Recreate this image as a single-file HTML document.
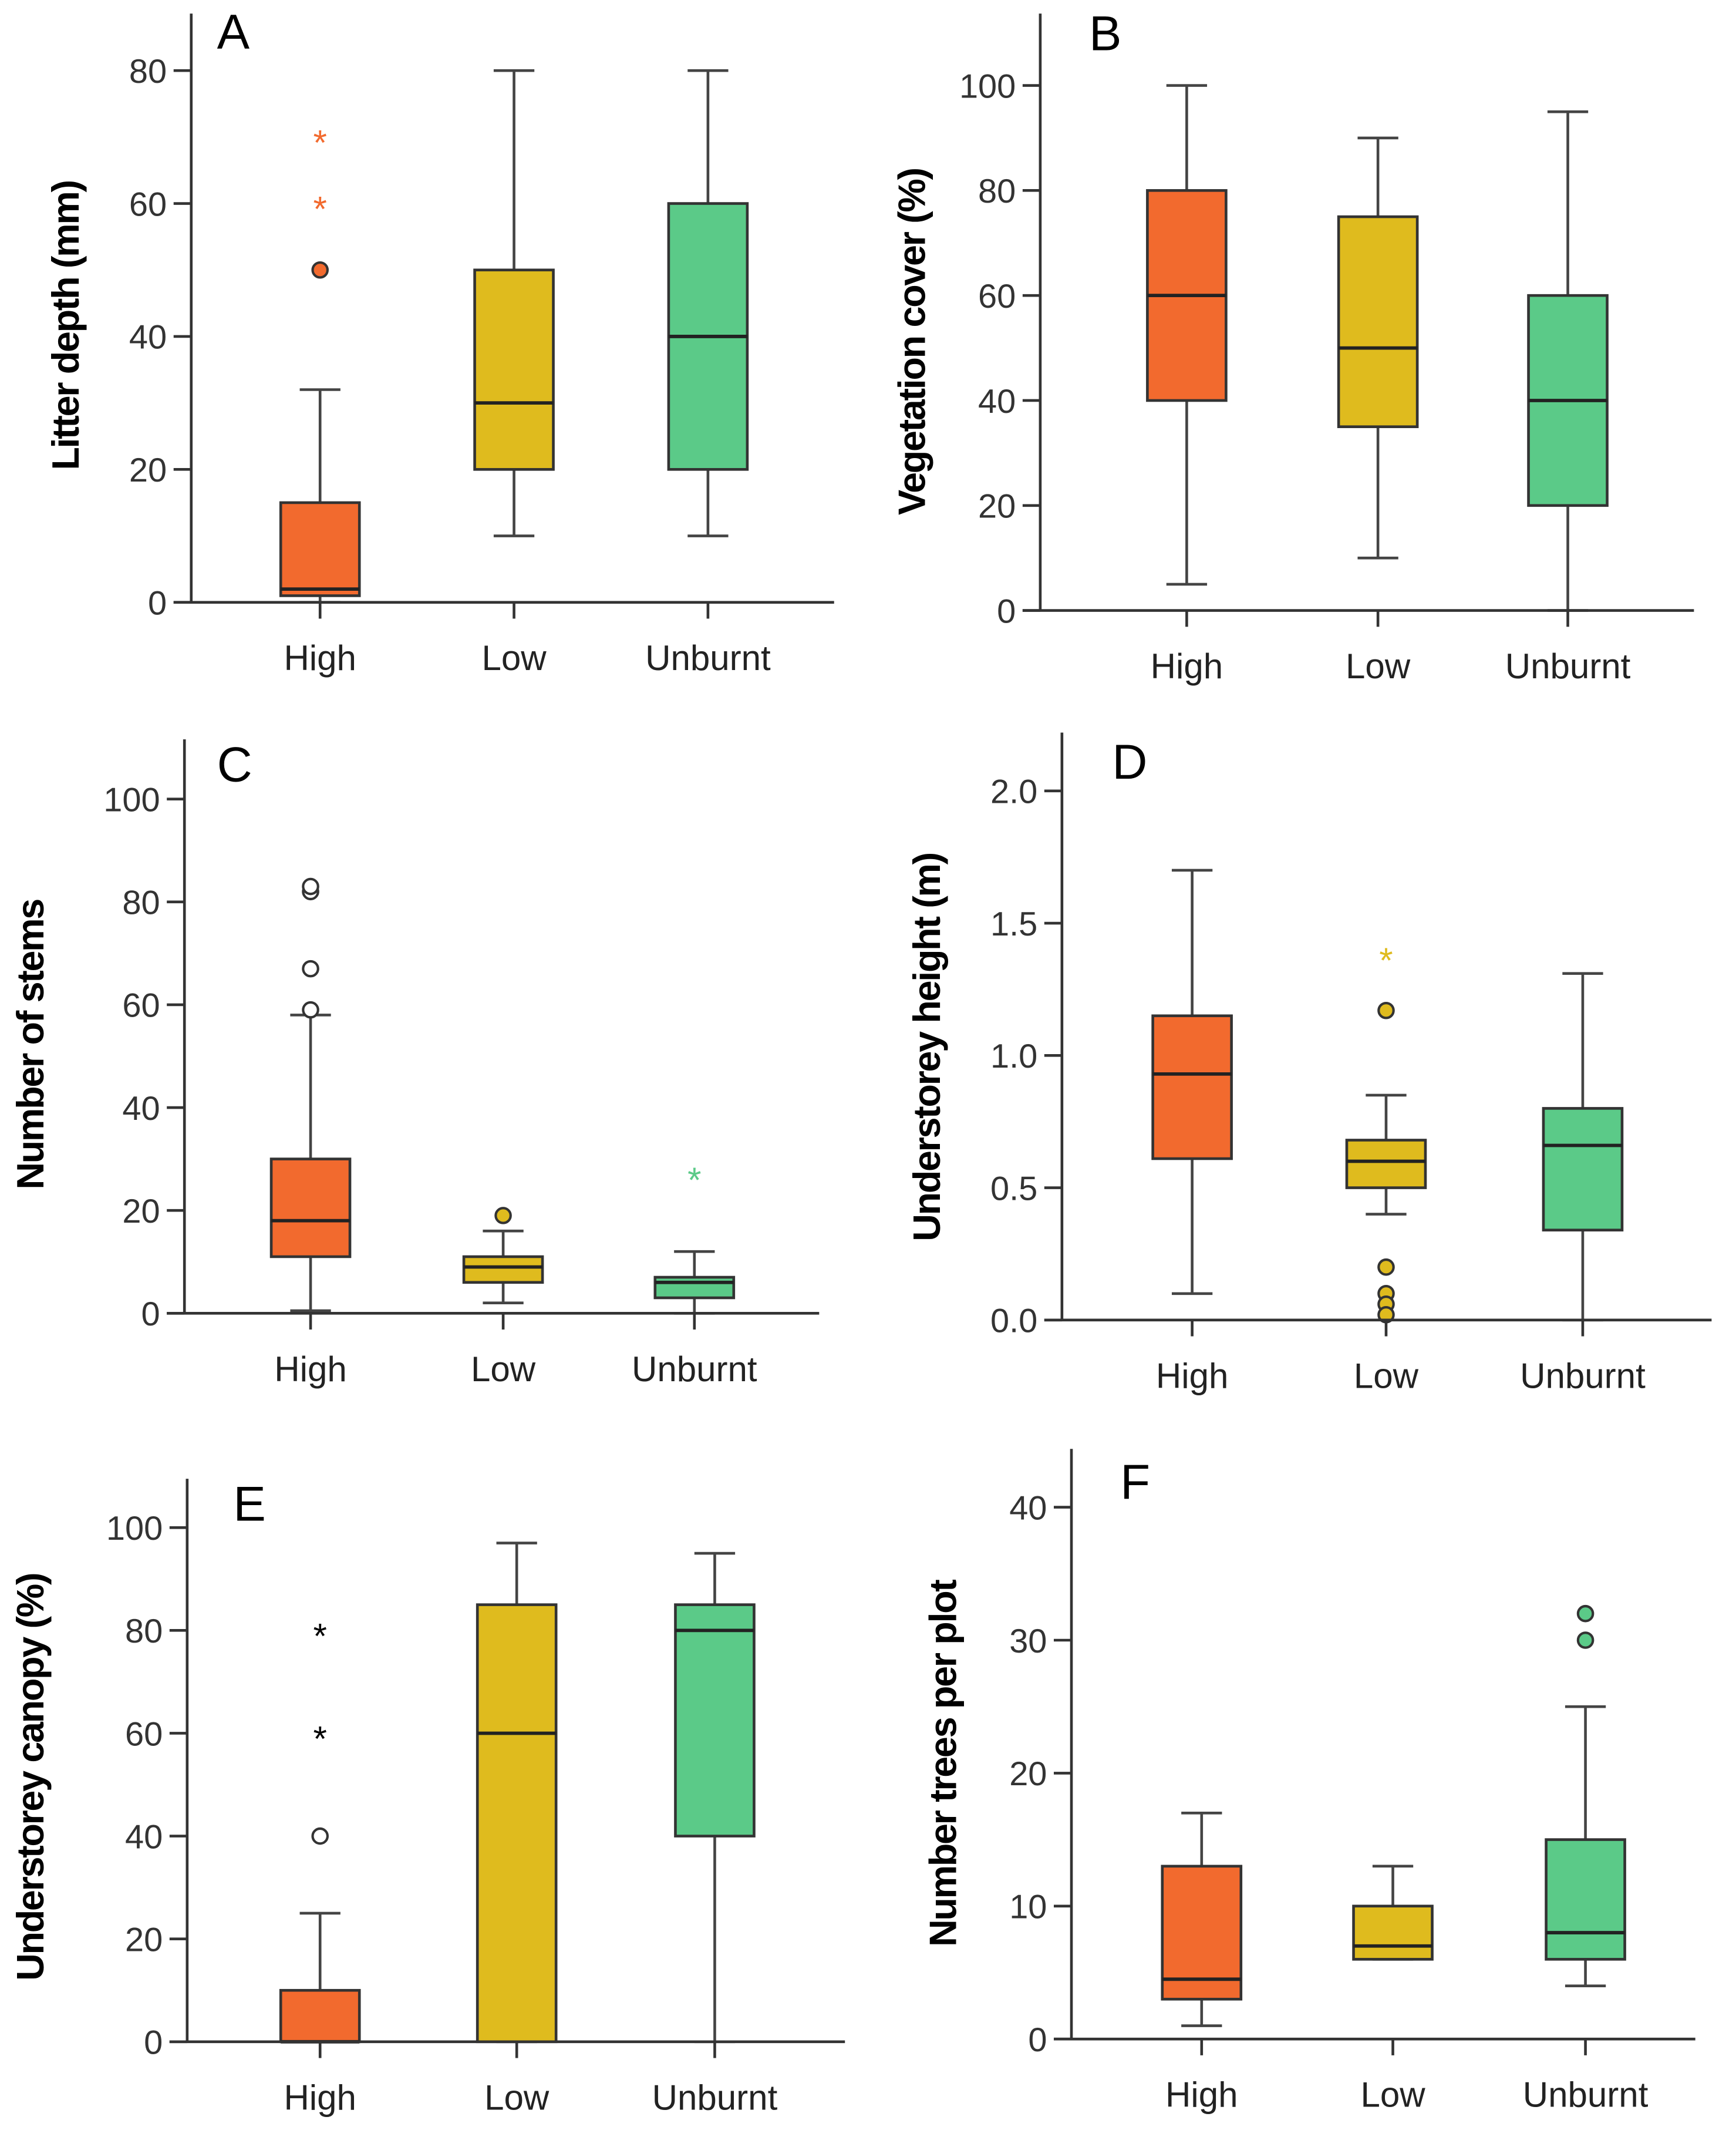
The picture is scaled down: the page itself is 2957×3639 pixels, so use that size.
<!DOCTYPE html>
<html><head><meta charset="utf-8"><style>
html,body{margin:0;padding:0;background:#fff;}
svg{display:block;}
text{font-family:"Liberation Sans",sans-serif;}
</style></head><body>
<svg id="fig" width="2957" height="3639" viewBox="0 0 1280 1575.2" xmlns="http://www.w3.org/2000/svg"></svg>
<script>
const categories = ["High","Low","Unburnt"];
const colors = ["#f26a2e","#dfbb1e","#5bca88"];
// [min, q1, median, q3, max] per category
const litterBoxes = [[0,1,2,15,32],[10,20,30,50,80],[10,20,40,60,80]];
const litterCircles = [[50],[],[]];
const litterStars = [[60,70],[],[]];
const litterTicks = [0,20,40,60,80];
const vegBoxes = [[5,40,60,80,100],[10,35,50,75,90],[0,20,40,60,95]];
const vegCircles = [[],[],[]];
const vegStars = [[],[],[]];
const vegTicks = [0,20,40,60,80,100];
const stemBoxes = [[0.5,11,18,30,58],[2,6,9,11,16],[0,3,6,7,12]];
const stemCircles = [[59,67,82,83],[19],[]];
const stemStars = [[],[],[27]];
const stemTicks = [0,20,40,60,80,100];
const heightBoxes = [[0.1,0.61,0.93,1.15,1.7],[0.4,0.5,0.6,0.68,0.85],[0,0.34,0.66,0.8,1.31]];
const heightCircles = [[],[1.17,0.2,0.1,0.06,0.02],[]];
const heightStars = [[],[1.38],[]];
const heightTicks = [0,0.5,1,1.5,2];
const canopyBoxes = [[0,0,0,10,25],[0,0,60,85,97],[0,40,80,85,95]];
const canopyCircles = [[40],[],[]];
const canopyStars = [[60,80],[],[]];
const canopyTicks = [0,20,40,60,80,100];
const treeBoxes = [[1,3,4.5,13,17],[6,6,7,10,13],[4,6,8,15,25]];
const treeCircles = [[],[],[30,32]];
const treeStars = [[],[],[]];
const treeTicks = [0,10,20,30,40];

const panels = [
 {id:"a",letter:"A",ax:141,top:10,y0:444,ymaxPix:52,ymaxVal:80,right:615,cx:[236,379,522],title:"Litter depth (mm)",tx:48,ty:240,lx:160,ly:36,boxes:litterBoxes,circles:litterCircles,stars:litterStars,ticks:litterTicks,dec:0,filledCircles:true,starColorCat:true},
 {id:"b",letter:"B",ax:767,top:10,y0:450,ymaxPix:63,ymaxVal:100,right:1249,cx:[875,1016,1156],title:"Vegetation cover (%)",tx:672,ty:252,lx:803,ly:37,boxes:vegBoxes,circles:vegCircles,stars:vegStars,ticks:vegTicks,dec:0,filledCircles:true,starColorCat:true},
 {id:"c",letter:"C",ax:136,top:545,y0:968,ymaxPix:589,ymaxVal:100,right:604,cx:[229,371,512],title:"Number of stems",tx:22,ty:770,lx:160,ly:576,boxes:stemBoxes,circles:stemCircles,stars:stemStars,ticks:stemTicks,dec:0,filledMask:[false,true,true],starColorCat:true},
 {id:"d",letter:"D",ax:783,top:540,y0:973,ymaxPix:583,ymaxVal:2,right:1262,cx:[879,1022,1167],title:"Understorey height (m)",tx:683,ty:772,lx:820,ly:574,boxes:heightBoxes,circles:heightCircles,stars:heightStars,ticks:heightTicks,dec:1,filledCircles:true,starColorCat:true},
 {id:"e",letter:"E",ax:138,top:1090,y0:1505,ymaxPix:1126,ymaxVal:100,right:623,cx:[236,381,527],title:"Understorey canopy  (%)",tx:22,ty:1310,lx:172,ly:1121,boxes:canopyBoxes,circles:canopyCircles,stars:canopyStars,ticks:canopyTicks,dec:0,filledMask:[false,true,true],starColorCat:false},
 {id:"f",letter:"F",ax:790,top:1068,y0:1503,ymaxPix:1111,ymaxVal:40,right:1250,cx:[886,1027,1169],title:"Number trees per plot",tx:695,ty:1300,lx:826,ly:1105,boxes:treeBoxes,circles:treeCircles,stars:treeStars,ticks:treeTicks,dec:0,filledCircles:true,starColorCat:true}
];
const NS="http://www.w3.org/2000/svg";
const svg=document.getElementById("fig");
function mk(tag,attrs,parent){const e=document.createElementNS(NS,tag);for(const k in attrs)e.setAttribute(k,attrs[k]);parent.appendChild(e);return e;}
panels.forEach(p=>{
  const g=mk("g",{},svg);
  
  
  const y=v=>p.y0-(v/p.ymaxVal)*(p.y0-p.ymaxPix);
  const ya=mk("line",{x1:p.ax,y1:p.top,x2:p.ax,y2:p.y0,stroke:"#333","stroke-width":2},g);
  
  
  p.ticks.forEach(t=>{
    mk("line",{x1:p.ax-13,y1:y(t),x2:p.ax,y2:y(t),stroke:"#333","stroke-width":2},g);
    const tl=mk("text",{x:p.ax-18,y:y(t)+9,"text-anchor":"end","font-size":25,fill:"#333"},g);
    tl.textContent=t.toFixed(p.dec);
    
    
  });
  const ti=mk("text",{x:0,y:0,"text-anchor":"middle","font-size":28,"font-weight":"bold",fill:"#000",transform:`translate(${p.tx+10},${p.ty}) rotate(-90)`,"letter-spacing":"-1"},g);
  ti.textContent=p.title;
  
  
  const lt=mk("text",{x:p.lx,y:p.ly,"font-size":36,fill:"#000"},g);
  lt.textContent=p.letter;
  
  
  categories.forEach((c,i)=>{
    const x=p.cx[i], b=p.boxes[i], w=29, cap=15;
    const bg=mk("g",{},g);
    
    
    mk("line",{x1:x,y1:y(b[0]),x2:x,y2:y(b[4]),stroke:"#444","stroke-width":2},bg);
    mk("line",{x1:x-cap,y1:y(b[0]),x2:x+cap,y2:y(b[0]),stroke:"#444","stroke-width":2},bg);
    mk("line",{x1:x-cap,y1:y(b[4]),x2:x+cap,y2:y(b[4]),stroke:"#444","stroke-width":2},bg);
    mk("rect",{x:x-w,y:y(b[3]),width:2*w,height:Math.max(y(b[1])-y(b[3]),0.5),fill:colors[i],stroke:"#333","stroke-width":2},bg);
    mk("line",{x1:x-w,y1:y(b[2]),x2:x+w,y2:y(b[2]),stroke:"#222","stroke-width":2.5},bg);
    p.circles[i].forEach(v=>{
      const filled=p.filledMask?p.filledMask[i]:p.filledCircles;
      const ci=mk("circle",{cx:x,cy:y(v),r:5.5,fill:filled?colors[i]:"#fff",stroke:"#333","stroke-width":1.8},bg);
      
      
    });
    p.stars[i].forEach(v=>{
      const st=mk("text",{x:x,y:y(v)+13,"text-anchor":"middle","font-size":26,fill:p.starColorCat?colors[i]:"#000"},bg);
      st.textContent="*";
      
      
    });
    mk("line",{x1:x,y1:p.y0,x2:x,y2:p.y0+12,stroke:"#333","stroke-width":2},g);
    const cl=mk("text",{x:x,y:p.y0+50,"text-anchor":"middle","font-size":26,fill:"#222"},g);
    cl.textContent=c;
    
    
  });
  const xa=mk("line",{x1:p.ax-13,y1:p.y0,x2:p.right,y2:p.y0,stroke:"#333","stroke-width":2},g);
  
  
});
</script>
</body></html>
